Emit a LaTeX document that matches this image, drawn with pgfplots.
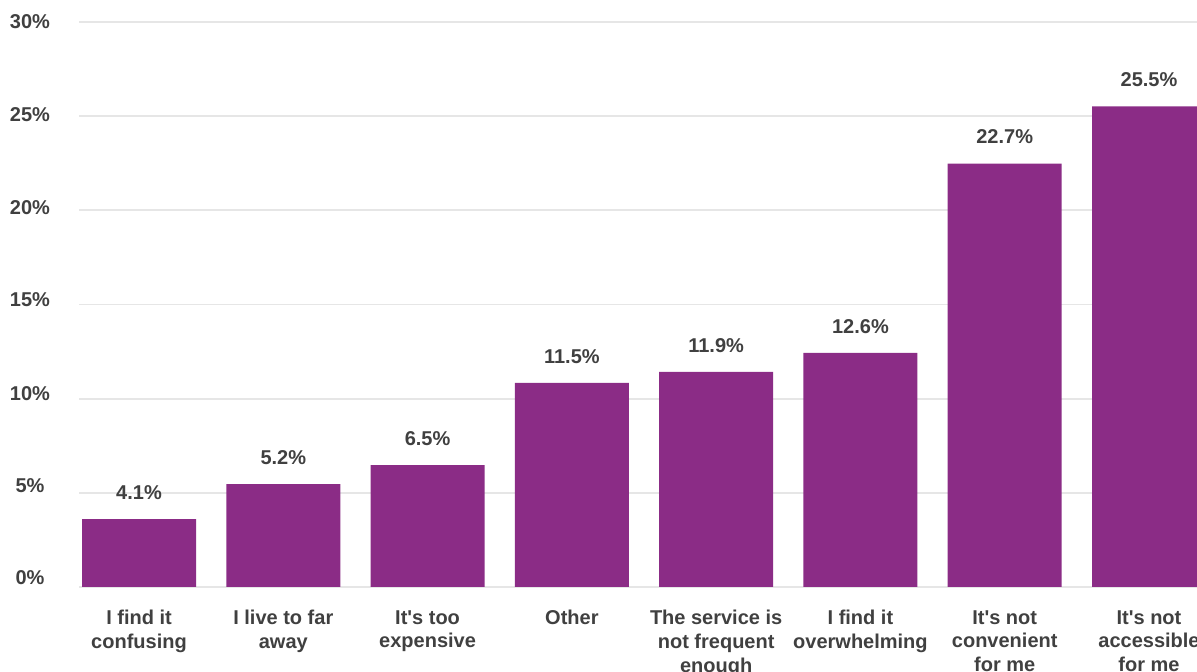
\documentclass[border=0pt]{standalone}
\usepackage{fontspec}
\setmainfont{Liberation Sans}
\usepackage{pgfplots}
\usepackage{pgfplotstable}
\pgfplotsset{compat=1.18}
\definecolor{barpurple}{RGB}{139,44,134}
\definecolor{txt}{RGB}{64,64,64}
\definecolor{gridc}{RGB}{230,230,230}
\pgfplotstableread{
x y lab
0 3.60 4.1
1 5.46 5.2
2 6.47 6.5
3 10.84 11.5
4 11.42 11.9
5 12.43 12.6
6 22.48 22.7
7 25.52 25.5
}\data
\begin{document}
\begin{tikzpicture}
\path[use as bounding box, clip] (0,0) rectangle (598.5pt,336pt);
\begin{axis}[
  at={(39.5pt,42.5pt)}, anchor=south west,
  scale only axis, width=565pt, height=282.5pt,
  xmin=-0.416, xmax=7.416, ymin=0, ymax=30,
  axis line style={draw=none}, major tick style={draw=none},
  ytick={0,5,...,30},
  yticklabels={{\raisebox{1.4pt}{0\%}},{\raisebox{0.4pt}{5\%}},{\raisebox{-0.85pt}{10\%}},{\raisebox{-1.1pt}{15\%}},{\raisebox{-1.85pt}{20\%}},{\raisebox{-2.6pt}{25\%}},{\raisebox{-3.3pt}{30\%}}},
  yticklabel style={anchor=base, inner sep=0pt, xshift=-24.5pt},
  ymajorgrids, major grid style={draw=gridc, line width=0.9pt},
  xtick={0,...,7},
  xticklabels={{I find it\\confusing},{I live to far\\away},{It\textquotesingle s too\\expensive},{Other},{The service is\\not frequent\\enough},{I find it\\overwhelming},{It\textquotesingle s not\\convenient\\for me},{It\textquotesingle s not\\accessible\\for me}},
  xticklabel style={align=center, anchor=north, inner sep=0pt, yshift=-7.2pt},
  tick label style={font=\fontsize{10}{11.8}\selectfont\bfseries, text=txt},
  ybar, bar width=0.79,
  nodes near coords={\pgfplotspointmeta\%},
  nodes near coords style={font=\fontsize{10}{12}\selectfont\bfseries, text=txt, anchor=base, inner sep=0pt, yshift=9.9pt},
]
\addplot[fill=barpurple, draw=none, point meta=explicit symbolic] table[x=x, y=y, meta=lab] {\data};
\end{axis}
\end{tikzpicture}
\end{document}
